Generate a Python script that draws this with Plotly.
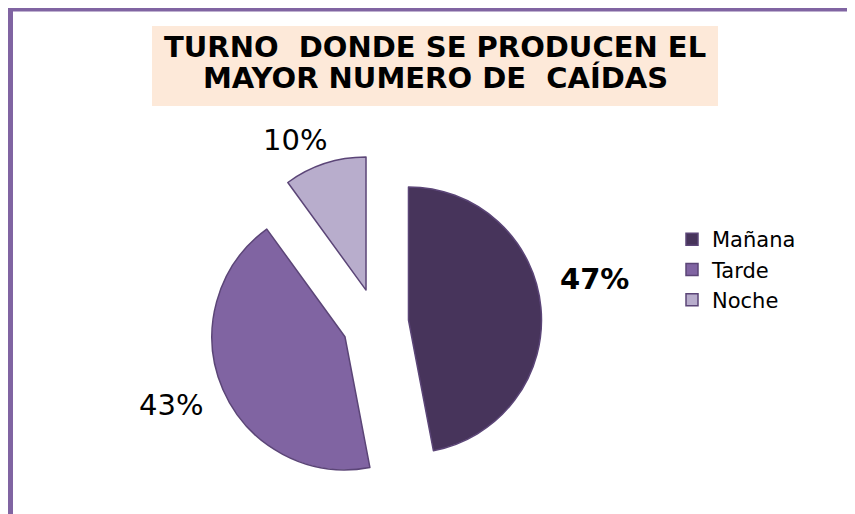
import plotly.graph_objects as go

categories = ["Mañana", "Tarde", "Noche"]
values = [47, 43, 10]
colors = ["#47345b", "#8064a2", "#b8adcc"]
pulls = [0.24, 0.26, 0.26]
title_lines = ["TURNO  DONDE SE PRODUCEN EL", "MAYOR NUMERO DE  CAÍDAS"]

W, H = 855, 514
FONT = "DejaVu Sans"

def px(x):
    return x / W

def py(y):
    return 1 - y / H

fig = go.Figure()
fig.add_trace(go.Pie(
    labels=categories,
    values=values,
    sort=False,
    direction="clockwise",
    rotation=0,
    pull=pulls,
    marker=dict(colors=colors, line=dict(color="#5b4577", width=1.5)),
    textinfo="none",
    hoverinfo="label+percent",
    domain=dict(x=[201.1 / W, 536.3 / W], y=[31.4 / H, 366.6 / H]),
))

# percentage labels
label_pos = [(586.5, 271, True), (163, 397, False), (287, 132, False)]
for v, (x, y, bold) in zip(values, label_pos):
    txt = f"{v}%"
    if bold:
        txt = f"<b>{txt}</b>"
    fig.add_annotation(x=px(x), y=py(y), xref="paper", yref="paper",
                       text=txt, showarrow=False,
                       font=dict(family=FONT, size=29, color="#000000"),
                       xanchor="center", yanchor="middle")

shapes = [
    # title background
    dict(type="rect", xref="paper", yref="paper",
         x0=px(144), x1=px(710), y0=py(98), y1=py(18),
         fillcolor="#fde9d9", line=dict(width=0), layer="below"),
    # outer border
    dict(type="line", xref="paper", yref="paper",
         x0=px(2.5), x1=px(2.5), y0=py(0), y1=py(H),
         line=dict(color="#8064a2", width=5)),
    dict(type="line", xref="paper", yref="paper",
         x0=px(0), x1=px(W), y0=py(1.75), y1=py(1.75),
         line=dict(color="#8064a2", width=3.5)),
    dict(type="line", xref="paper", yref="paper",
         x0=px(W - 2.5), x1=px(W - 2.5), y0=py(0), y1=py(H),
         line=dict(color="#8064a2", width=5)),
    dict(type="line", xref="paper", yref="paper",
         x0=px(0), x1=px(W), y0=py(H - 1.75), y1=py(H - 1.75),
         line=dict(color="#8064a2", width=3.5)),
]

for line, yc in zip(title_lines, [39, 70]):
    fig.add_annotation(x=px(427), y=py(yc), xref="paper", yref="paper",
                       text=f"<b>{line}</b>",
                       showarrow=False, align="center",
                       font=dict(family=FONT, size=29, color="#000000"),
                       xanchor="center", yanchor="middle")

fig.update_layout(
    width=W, height=H,
    margin=dict(l=0, r=0, t=0, b=0),
    paper_bgcolor="#ffffff",
    plot_bgcolor="#ffffff",
    shapes=shapes,
    showlegend=True,
    legend=dict(x=px(664), y=py(211), xanchor="left", yanchor="top",
                font=dict(family=FONT, size=21, color="#000000"),
                itemwidth=30, tracegroupgap=0,
                bgcolor="rgba(0,0,0,0)"),
)

fig.write_html("out.html")
